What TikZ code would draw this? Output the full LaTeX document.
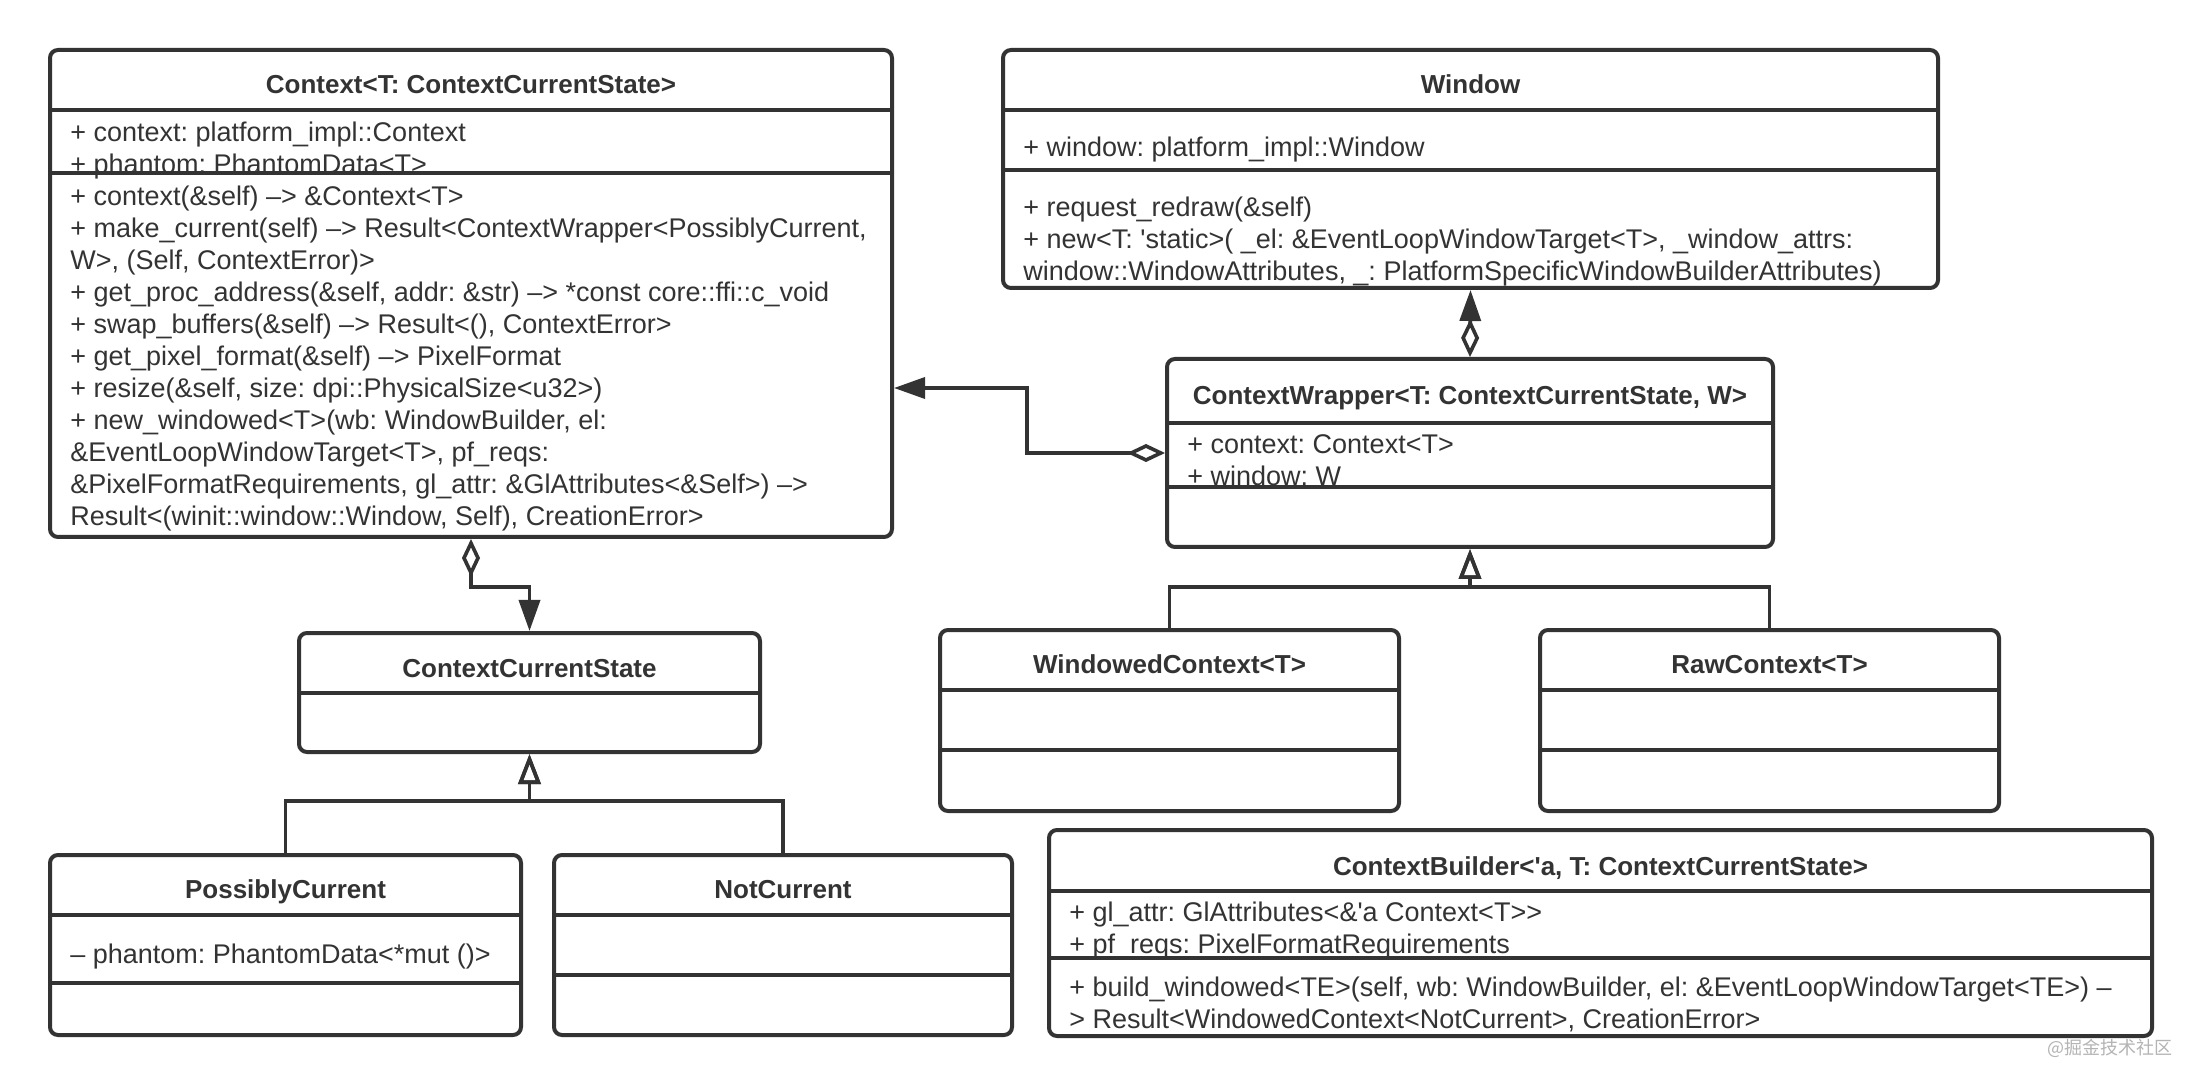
\documentclass[tikz,border=0pt]{standalone}
\usepackage{fontspec}
\setmainfont{Liberation Sans}[Ligatures=TeXOff]
\newfontfamily\cjkfont{Noto Sans CJK SC}
\usetikzlibrary{arrows.meta}
\definecolor{umlgray}{HTML}{333333}
\definecolor{markgray}{HTML}{B4B4B4}
\frenchspacing
\begin{document}
\begin{tikzpicture}[x=0.5pt, y=-0.5pt, umlgray,
    cls/.style={draw, line width=2pt, rounded corners=4pt, inner sep=0pt},
    sep/.style={line width=2pt},
    title/.style={font=\fontsize{13}{16}\selectfont\bfseries, anchor=base},
    txt/.style={font=\fontsize{13.5}{16}\selectfont, anchor=north west, inner sep=0pt, align=left, execute at begin node=\strut},
    aggr/.style={line width=1.8pt, arrows={Diamond[open, length=19pt, width=9pt]-Triangle[length=15.5pt, width=10.5pt]}},
    inh/.style={line width=1.8pt, arrows={-Triangle[open, length=15pt, width=11pt]}}]
  \fill[white] (0,0) rectangle (2202,1085);
  \useasboundingbox (0,0) rectangle (2202,1085);
  % Classes
  \node[cls, minimum width=421pt, minimum height=243.5pt] (ctx) at (471,293.5) {};
  \node[cls, minimum width=467.5pt, minimum height=119pt] (win) at (1470.5,169) {};
  \node[cls, minimum width=303pt, minimum height=94pt] (wrap) at (1470,453) {};
  \node[cls, minimum width=230.5pt, minimum height=59.5pt] (ccs) at (529.5,692.5) {};
  \node[cls, minimum width=235.5pt, minimum height=90pt] (pc) at (285.5,945) {};
  \node[cls, minimum width=229pt, minimum height=90pt] (nc) at (783,945) {};
  \node[cls, minimum width=229.5pt, minimum height=90.5pt] (wctx) at (1169.5,720.5) {};
  \node[cls, minimum width=229.5pt, minimum height=90.5pt] (rctx) at (1769.5,720.5) {};
  \node[cls, minimum width=551.5pt, minimum height=103pt] (cb) at (1600.5,933) {};
  % Titles
  \node[title] (ctxT) at (471,94) {Context<T: ContextCurrentState>};
  \node[title] (winT) at (1470.5,94) {Window};
  \node[title] (wrapT) at (1470,405) {ContextWrapper<T: ContextCurrentState, W>};
  \node[title] (ccsT) at (529.5,677) {ContextCurrentState};
  \node[title] (pcT) at (285.5,898) {PossiblyCurrent};
  \node[title] (ncT) at (783,898) {NotCurrent};
  \node[title] (wctxT) at (1169.5,673) {WindowedContext<T>};
  \node[title] (rctxT) at (1769.5,673) {RawContext<T>};
  \node[title] (cbT) at (1600.5,875) {ContextBuilder<'a, T: ContextCurrentState>};
  % Attributes and methods
  \node[txt] (ctxA) at (70,121.6) {+ context: platform\_impl::Context\\
    + phantom: PhantomData<T>};
  \node[txt] (ctxM) at (70,185.6) {+ context(\&self) –> \&Context<T>\\
    + make\_current(self) –> Result<ContextWrapper<PossiblyCurrent,\\
    W>, (Self, ContextError)>\\
    + get\_proc\_address(\&self, addr: \&str) –> *const core::ffi::c\_void\\
    + swap\_buffers(\&self) –> Result<(), ContextError>\\
    + get\_pixel\_format(\&self) –> PixelFormat\\
    + resize(\&self, size: dpi::PhysicalSize<u32>)\\
    + new\_windowed<T>(wb: WindowBuilder, el:\\
    \&EventLoopWindowTarget<T>, pf\_reqs:\\
    \&PixelFormatRequirements, gl\_attr: \&GlAttributes<\&Self>) –>\\
    Result<(winit::window::Window, Self), CreationError>};
  \node[txt] (winA) at (1023,133.6) {+ window: platform\_impl::Window};
  \node[txt] (winM) at (1023,196.6) {+ request\_redraw(\&self)\\
    + new<T: 'static>( \_el: \&EventLoopWindowTarget<T>, \_window\_attrs:\\
    window::WindowAttributes, \_: PlatformSpecificWindowBuilderAttributes)};
  \node[txt] (wrapA) at (1187,434.6) {+ context: Context<T>\\
    + window: W};
  \node[txt] (pcA) at (70,940.6) {– phantom: PhantomData<*mut ()>};
  \node[txt] (cbA) at (1069,901.6) {+ gl\_attr: GlAttributes<\&'a Context<T>>\\
    + pf\_reqs: PixelFormatRequirements};
  \node[txt] (cbM) at (1069,976.6) {+ build\_windowed<TE>(self, wb: WindowBuilder, el: \&EventLoopWindowTarget<TE>) –\\
    > Result<WindowedContext<NotCurrent>, CreationError>};
  % Separators
  \draw[sep] (ctx.west |- 0,110) -- (ctx.east |- 0,110);
  \draw[sep] (ctx.west |- 0,173) -- (ctx.east |- 0,173);
  \draw[sep] (win.west |- 0,110) -- (win.east |- 0,110);
  \draw[sep] (win.west |- 0,170) -- (win.east |- 0,170);
  \draw[sep] (wrap.west |- 0,423) -- (wrap.east |- 0,423);
  \draw[sep] (wrap.west |- 0,487) -- (wrap.east |- 0,487);
  \draw[sep] (ccs.west |- 0,693) -- (ccs.east |- 0,693);
  \draw[sep] (pc.west |- 0,915) -- (pc.east |- 0,915);
  \draw[sep] (pc.west |- 0,983) -- (pc.east |- 0,983);
  \draw[sep] (nc.west |- 0,915) -- (nc.east |- 0,915);
  \draw[sep] (nc.west |- 0,975) -- (nc.east |- 0,975);
  \draw[sep] (wctx.west |- 0,690) -- (wctx.east |- 0,690);
  \draw[sep] (wctx.west |- 0,750) -- (wctx.east |- 0,750);
  \draw[sep] (rctx.west |- 0,690) -- (rctx.east |- 0,690);
  \draw[sep] (rctx.west |- 0,750) -- (rctx.east |- 0,750);
  \draw[sep] (cb.west |- 0,891) -- (cb.east |- 0,891);
  \draw[sep] (cb.west |- 0,958) -- (cb.east |- 0,958);
  % Aggregations
  \draw[aggr] (ctx.south) -- ++(0,48) -| (ccs.north);
  \draw[aggr] (wrap.north) -- (win.south);
  \draw[aggr] (wrap.west) -- ++(-138,0) |- ([yshift=-47.25pt]ctx.east);
  % Generalisations
  \draw[inh] (pc.north) -- ++(0,-52) -| (ccs.south);
  \draw[inh] (nc.north) -- ++(0,-52) -| (ccs.south);
  \draw[inh] (wctx.north) -- ++(0,-41) -| (wrap.south);
  \draw[inh] (rctx.north) -- ++(0,-41) -| (wrap.south);
  % Watermark
  \node[font=\cjkfont\fontsize{9}{10}\selectfont, text=markgray, anchor=east, inner sep=0pt] (mark) at (2173,1048) {@掘金技术社区};
\end{tikzpicture}
\end{document}
